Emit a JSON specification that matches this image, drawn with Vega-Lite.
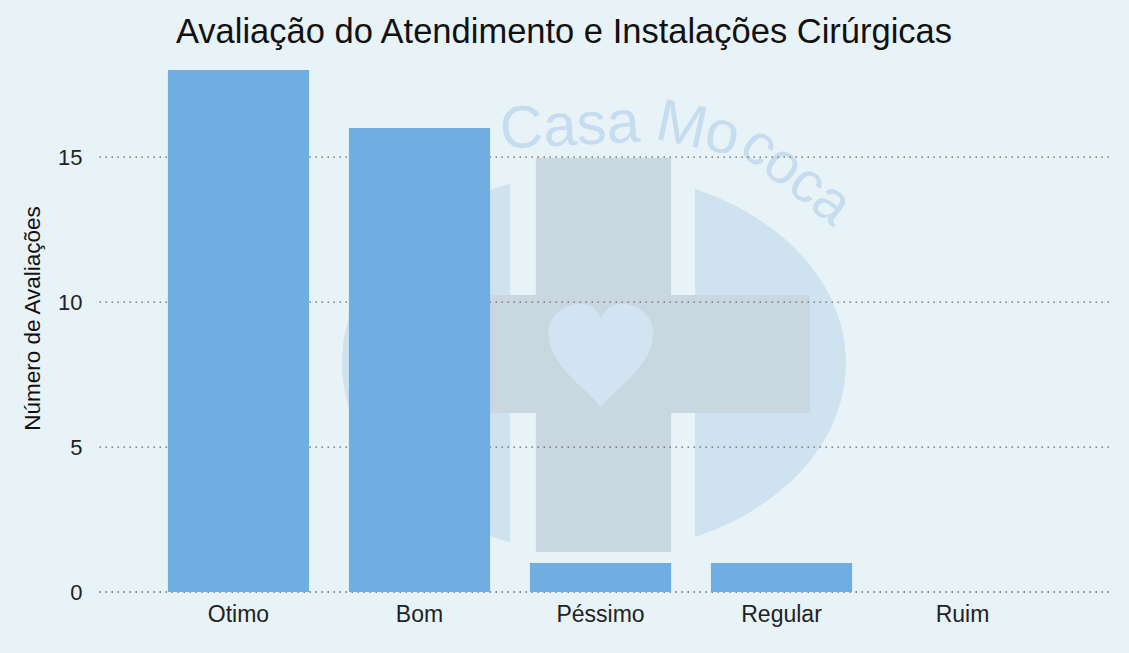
{
  "$schema": "https://vega.github.io/schema/vega-lite/v6.json",
  "width": 1012,
  "height": 548,
  "autosize": {"type": "none"},
  "padding": {"left": 97, "top": 44, "right": 20, "bottom": 61},
  "background": "#e8f3f8",
  "config": {"view": {"stroke": null}, "font": "Liberation Sans"},
  "title": {
    "text": "Avaliação do Atendimento e Instalações Cirúrgicas",
    "fontSize": 34.5,
    "fontWeight": "normal",
    "color": "#111111",
    "anchor": "middle",
    "frame": "group",
    "dx": -39,
    "offset": -6
  },
  "layer": [
    {
      "data": {"values": [{}]},
      "mark": {"type": "point", "filled": true, "shape": "M-1,0 A1,0.754 0 1,0 1,0 A1,0.754 0 1,0 -1,0 Z", "size": 254016, "color": "#cfe2f0", "opacity": 1, "strokeWidth": 0},
      "encoding": {
        "x": {"datum": "Péssimo", "type": "nominal", "bandPosition": 0.453},
        "y": {"datum": 7.9, "type": "quantitative"}
      }
    },
    {
      "data": {"values": [{}]},
      "mark": {"type": "rect", "color": "#e8f3f8"},
      "encoding": {
        "x": {"datum": "Péssimo", "type": "nominal", "bandPosition": -0.14},
        "x2": {"datum": "Péssimo", "bandPosition": 1.17},
        "y": {"datum": 14.6, "type": "quantitative"},
        "y2": {"datum": 1.2}
      }
    },
    {
      "data": {"values": [{}]},
      "mark": {"type": "rect", "color": "#c9d7e0"},
      "encoding": {
        "x": {"datum": "Péssimo", "type": "nominal", "bandPosition": 0.042},
        "x2": {"datum": "Péssimo", "bandPosition": 1.0},
        "y": {"datum": 14.97, "type": "quantitative"},
        "y2": {"datum": 1.38}
      }
    },
    {
      "data": {"values": [{}]},
      "mark": {"type": "rect", "color": "#c9d7e0"},
      "encoding": {
        "x": {"datum": "Bom", "type": "nominal", "bandPosition": 0.999},
        "x2": {"datum": "Regular", "bandPosition": 0.7},
        "y": {"datum": 10.24, "type": "quantitative"},
        "y2": {"datum": 6.17}
      }
    },
    {
      "data": {"values": [{}]},
      "mark": {"type": "point", "filled": true, "shape": "M0,1 C-0.2,0.7 -1,0.2 -1,-0.4 C-1,-0.85 -0.55,-1.05 -0.25,-0.95 C-0.1,-0.9 0,-0.75 0,-0.65 C0,-0.75 0.1,-0.9 0.25,-0.95 C0.55,-1.05 1,-0.85 1,-0.4 C1,0.2 0.2,0.7 0,1 Z", "size": 11025, "color": "#d2e4f2", "opacity": 1, "strokeWidth": 0},
      "encoding": {
        "x": {"datum": "Péssimo", "type": "nominal", "bandPosition": 0.503},
        "y": {"datum": 8.17, "type": "quantitative"}
      }
    },
    {
      "data": {"values": [{}]},
      "mark": {"type": "text", "text": "Casa", "fontSize": 60, "angle": -3, "color": "#c6dcef", "align": "center", "baseline": "middle"},
      "encoding": {
        "x": {"datum": "Péssimo", "type": "nominal", "bandPosition": 0.283},
        "y": {"datum": 16.03, "type": "quantitative"}
      }
    },
    {
      "data": {"values": [{}]},
      "mark": {"type": "text", "text": "Mo", "fontSize": 60, "angle": 12, "color": "#c6dcef", "align": "center", "baseline": "middle"},
      "encoding": {
        "x": {"datum": "Péssimo", "type": "nominal", "bandPosition": 1.19},
        "y": {"datum": 15.95, "type": "quantitative"}
      }
    },
    {
      "data": {"values": [{}]},
      "mark": {"type": "text", "text": "coca", "fontSize": 58, "angle": 38, "color": "#c6dcef", "align": "center", "baseline": "middle"},
      "encoding": {
        "x": {"datum": "Regular", "type": "nominal", "bandPosition": 0.6},
        "y": {"datum": 14.35, "type": "quantitative"}
      }
    },
    {
      "data": {"values": [{"v": 0}, {"v": 5}, {"v": 10}, {"v": 15}]},
      "mark": {"type": "rule", "color": "#666666", "strokeDash": [1.5, 4.5], "strokeWidth": 1.3},
      "encoding": {
        "y": {"field": "v", "type": "quantitative", "title": "Número de Avaliações"}
      }
    },
    {
      "data": {"values": [
        {"categoria": "Otimo", "n": 18},
        {"categoria": "Bom", "n": 16},
        {"categoria": "Péssimo", "n": 1},
        {"categoria": "Regular", "n": 1},
        {"categoria": "Ruim", "n": 0}
      ]},
      "mark": {"type": "bar", "color": "#70ade0"},
      "encoding": {
        "x": {
          "field": "categoria",
          "type": "nominal",
          "sort": null,
          "scale": {"domain": ["Otimo", "Bom", "Péssimo", "Regular", "Ruim"], "paddingInner": 0.22, "paddingOuter": 0.4055, "align": 0.483},
          "axis": {"title": null, "bandPosition": 0.5, "labelAngle": 0, "labelAlign": "center", "labelBaseline": "top", "domain": false, "ticks": false, "labelFontSize": 23, "labelPadding": 11, "labelColor": "#222222", "grid": false}
        },
        "y": {
          "field": "n",
          "type": "quantitative",
          "scale": {"domain": [0, 18.9], "nice": false, "zero": true},
          "axis": {"title": "Número de Avaliações", "values": [0, 5, 10, 15], "grid": false, "domain": false, "ticks": false, "labelFontSize": 22, "labelPadding": 15, "labelColor": "#222222", "titleFontSize": 22.5, "titleFontWeight": "normal", "titleColor": "#111111", "titlePadding": 13}
        }
      }
    }
  ]
}
